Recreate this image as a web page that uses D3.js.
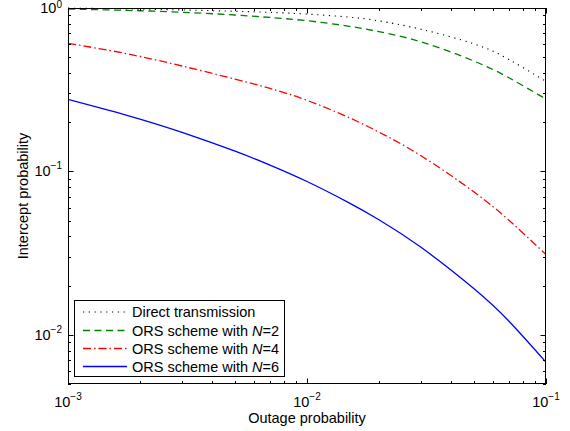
<!DOCTYPE html>
<html><head><meta charset="utf-8">
<script src="https://cdn.jsdelivr.net/npm/d3@7"></script>
<style>body{margin:0;background:#fff}svg{display:block;font-family:Arial,"Liberation Sans",Helvetica,sans-serif}</style>
</head><body><svg id="c" width="570" height="431"></svg>
<script>
const outageProb = [0.001, 0.0015, 0.002, 0.003, 0.005, 0.007, 0.01, 0.015, 0.02, 0.03, 0.05, 0.07, 0.1];
const directTx = [0.998, 0.991, 0.984, 0.973, 0.955, 0.940, 0.918, 0.879, 0.834, 0.741, 0.603, 0.484, 0.355];
const orsN2 = [0.985, 0.973, 0.962, 0.942, 0.906, 0.875, 0.836, 0.773, 0.716, 0.621, 0.473, 0.374, 0.277];
const orsN4 = [0.608, 0.549, 0.505, 0.4416, 0.367, 0.322, 0.2723, 0.2133, 0.174, 0.1247, 0.0748, 0.0502, 0.031];
const orsN6 = [0.2761, 0.2358, 0.2089, 0.1733, 0.1329, 0.1093, 0.0867, 0.0642, 0.0506, 0.0343, 0.01913, 0.01211, 0.0068];
const seriesNames = ["Direct transmission", "ORS scheme with N=2", "ORS scheme with N=4", "ORS scheme with N=6"];
const xTickExps = [-3, -2, -1];
const yTickExps = [0, -1, -2];
const xLabel = "Outage probability";
const yLabel = "Intercept probability";

const svg = d3.select("#c");
const L = 68, R = 546, T = 8, B = 384;
const x = d3.scaleLog().domain([1e-3, 1e-1]).range([L, R]);
const y = d3.scaleLog().domain([0.005, 1]).range([B, T]);

const styles = [
  {color: "#000", dash: "1.2,4.6", w: 1.1},
  {color: "#008000", dash: "7,4.5", w: 1.3},
  {color: "#ff0000", dash: "8,3,1.5,3", w: 1.3},
  {color: "#0000ff", dash: null, w: 1.3}
];
const allSeries = [directTx, orsN2, orsN4, orsN6];

svg.append("rect").attr("x", L).attr("y", T).attr("width", R - L).attr("height", B - T).attr("fill", "#fff");

svg.append("clipPath").attr("id", "cp").append("rect").attr("x", L).attr("y", T - 2).attr("width", R - L).attr("height", B - T + 4);

const line = d3.line().x((d, i) => x(outageProb[i])).y(d => y(d)).curve(d3.curveNatural);
const g = svg.append("g").attr("clip-path", "url(#cp)");
allSeries.forEach((s, k) => {
  g.append("path").attr("d", line(s)).attr("fill", "none")
    .attr("stroke", styles[k].color).attr("stroke-width", styles[k].w)
    .attr("stroke-dasharray", styles[k].dash);
});

// ticks
const ax = svg.append("g").attr("stroke", "#000").attr("stroke-width", 1);
const xt = [];
for (let e = -3; e <= -2; e++) for (let m = 1; m <= 9; m++) xt.push([m * Math.pow(10, e), m === 1]);
xt.push([0.1, true]);
xt.forEach(([v, maj]) => {
  const px = Math.round(x(v)) + 0.5, len = maj ? 5.5 : 3;
  ax.append("line").attr("x1", px).attr("x2", px).attr("y1", B).attr("y2", B - len);
  ax.append("line").attr("x1", px).attr("x2", px).attr("y1", T).attr("y2", T + len);
});
const yt = [];
for (let e = -3; e <= -1; e++) for (let m = 1; m <= 9; m++) { const v = m * Math.pow(10, e); if (v >= 0.005) yt.push([v, m === 1]); }
yt.push([1, true]);
yt.forEach(([v, maj]) => {
  const py = Math.round(y(v)) + 0.5, len = maj ? 5.5 : 3;
  ax.append("line").attr("y1", py).attr("y2", py).attr("x1", L).attr("x2", L + len);
  ax.append("line").attr("y1", py).attr("y2", py).attr("x1", R).attr("x2", R - len);
});
svg.append("rect").attr("x", L + 0.5).attr("y", T + 0.5).attr("width", R - L - 1).attr("height", B - T - 1)
  .attr("fill", "none").attr("stroke", "#000").attr("stroke-width", 1);

// tick labels
function powLabel(sel, e, up) {
  sel.append("tspan").text("10");
  sel.append("tspan").attr("dy", -up).attr("font-size", 10).text(e === 0 ? "0" : "\u2212" + Math.abs(e));
}
xTickExps.forEach(e => {
  const t = svg.append("text").attr("x", x(Math.pow(10, e))).attr("y", 407).attr("font-size", 14.5).attr("text-anchor", "middle");
  powLabel(t, e, 7);
});
yTickExps.forEach(e => {
  const t = svg.append("text").attr("x", 62).attr("y", y(Math.pow(10, e)) + 5).attr("font-size", 14.5).attr("text-anchor", "end");
  powLabel(t, e, e === 0 ? 5 : 7);
});

svg.append("text").attr("x", (L + R) / 2).attr("y", 423).attr("font-size", 14.5).attr("text-anchor", "middle").text(xLabel);
svg.append("text").attr("transform", `translate(28,${(T + B) / 2}) rotate(-90)`).attr("font-size", 14.5).attr("text-anchor", "middle").text(yLabel);

// legend
const lg = svg.append("g");
lg.append("rect").attr("x", 74.5).attr("y", 300.5).attr("width", 210).attr("height", 76).attr("fill", "#fff").attr("stroke", "#000");
const rowsY = [312, 330.5, 348.5, 366.5];
seriesNames.forEach((name, k) => {
  lg.append("line").attr("x1", 83).attr("x2", 127).attr("y1", rowsY[k]).attr("y2", rowsY[k])
    .attr("stroke", styles[k].color).attr("stroke-width", styles[k].w).attr("stroke-dasharray", styles[k].dash);
  const t = lg.append("text").attr("x", 132).attr("y", rowsY[k] + 5.2).attr("font-size", 14.5);
  const m = name.match(/^(.*with )N(=\d)$/);
  if (m) {
    t.append("tspan").text(m[1]);
    t.append("tspan").attr("font-style", "italic").text("N");
    t.append("tspan").text(m[2]);
  } else t.text(name);
});
</script></body></html>
